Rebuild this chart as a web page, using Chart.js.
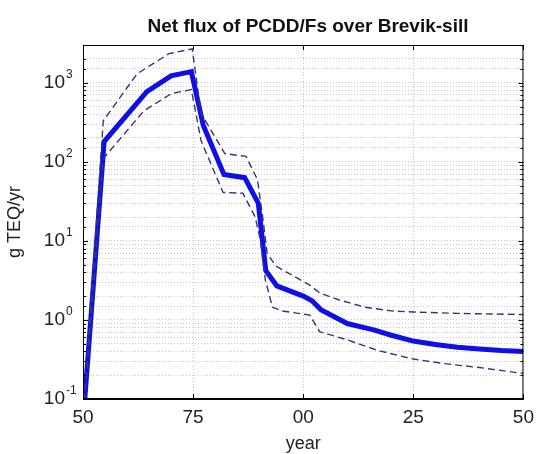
<!DOCTYPE html>
<html>
<head>
<meta charset="utf-8">
<script src="https://cdn.jsdelivr.net/npm/chart.js@4/dist/chart.umd.min.js"></script>
<style>
  html, body { margin: 0; padding: 0; background: #fff; }
  #wrap { width: 541px; height: 454px; }
</style>
</head>
<body>
<div id="wrap"><canvas id="fluxChart" width="541" height="454"></canvas></div>
<script>
const chartTitle = 'Net flux of PCDD/Fs over Brevik-sill';
const xTitle = 'year';
const yTitle = 'g TEQ/yr';

// x ticks (years) and how they are labelled
const xTicks = [1950, 1975, 2000, 2025, 2050];
const xTickLabels = ['50', '75', '00', '25', '50'];
// y decades: base and exponent of each label
const yTickBase = '10';
const yTickExponents = ['-1', '0', '1', '2', '3'];

// best estimate (thick line)
const meanYears = [1950, 1954.8, 1964.5, 1970, 1974.6, 1977.3, 1982, 1986.7, 1989.8, 1990.6, 1991.5, 1994, 2000, 2002, 2004, 2010, 2016, 2020, 2025, 2030, 2035, 2040, 2045, 2050];
const meanFlux  = [0.05, 180, 770, 1220, 1380, 290, 69, 63, 30, 12, 4.2, 2.7, 2.0, 1.75, 1.35, 0.9, 0.75, 0.64, 0.54, 0.49, 0.45, 0.43, 0.41, 0.40];

// upper bound (dashed)
const upperYears = [1950, 1954.6, 1962.3, 1969.5, 1974.8, 1976.8, 1982.2, 1987, 1989.6, 1990.8, 1991.8, 1993.8, 2001.5, 2003.7, 2008, 2014, 2020, 2025, 2035, 2050];
const upperFlux  = [0.05, 330, 1300, 2330, 2680, 410, 127, 117, 60, 20, 7, 4.8, 2.75, 2.2, 1.8, 1.45, 1.3, 1.26, 1.21, 1.17];

// lower bound (dashed)
const lowerYears = [1950, 1954.6, 1963.9, 1970.1, 1974.6, 1976.8, 1981.8, 1986.3, 1989.1, 1990.3, 1991.4, 1993, 1995.2, 2001.5, 2003.7, 2010, 2017, 2025, 2032, 2040, 2050];
const lowerFlux  = [0.05, 110, 445, 730, 820, 185, 41, 40, 20, 10, 3.2, 1.45, 1.3, 1.15, 0.71, 0.56, 0.41, 0.32, 0.28, 0.25, 0.21];

const toPoints = (xs, ys) => xs.map((x, i) => ({ x: x, y: ys[i] }));
const isDecade = v => Math.abs(Math.log10(v) - Math.round(Math.log10(v))) < 1e-9;
const font = 'Liberation Sans, Arial, sans-serif';

// box around the axes, inward ticks, exponents and the title over the plot area
const framePlugin = {
    id: 'frame',
    afterDraw(chart) {
        const { ctx, chartArea: a, scales } = chart;
        ctx.save();
        ctx.strokeStyle = '#000';
        ctx.lineWidth = 1;
        ctx.strokeRect(a.left + 0.5, a.top + 0.5, a.right - a.left - 1, a.bottom - a.top - 1);
        ctx.beginPath();
        scales.y.ticks.forEach(t => {
            const y = Math.round(scales.y.getPixelForValue(t.value)) + 0.5;
            const len = isDecade(t.value) ? 5 : 3;
            ctx.moveTo(a.left, y); ctx.lineTo(a.left + len, y);
            ctx.moveTo(a.right, y); ctx.lineTo(a.right - len, y);
        });
        xTicks.forEach(v => {
            const x = Math.round(scales.x.getPixelForValue(v)) + 0.5;
            ctx.moveTo(x, a.bottom); ctx.lineTo(x, a.bottom - 5);
            ctx.moveTo(x, a.top); ctx.lineTo(x, a.top + 5);
        });
        ctx.stroke();

        // exponents of the y labels
        ctx.fillStyle = '#222';
        ctx.font = '12px ' + font;
        ctx.textAlign = 'left';
        ctx.textBaseline = 'alphabetic';
        yTickExponents.forEach(e => {
            const y = scales.y.getPixelForValue(Math.pow(10, Number(e)));
            ctx.fillText(e, 66, y - 5);
        });

        ctx.fillStyle = '#111';
        ctx.font = 'bold 19px ' + font;
        ctx.textAlign = 'center';
        ctx.fillText(chartTitle, 308, 32);
        ctx.restore();
    }
};

const ctx = document.getElementById('fluxChart').getContext('2d');
new Chart(ctx, {
    type: 'line',
    data: {
        datasets: [{
            label: 'upper',
            data: toPoints(upperYears, upperFlux),
            borderColor: '#35357a',
            borderWidth: 1.4,
            borderDash: [7, 4],
            pointRadius: 0,
            tension: 0
        }, {
            label: 'lower',
            data: toPoints(lowerYears, lowerFlux),
            borderColor: '#35357a',
            borderWidth: 1.4,
            borderDash: [7, 4],
            pointRadius: 0,
            tension: 0
        }, {
            label: 'mean',
            data: toPoints(meanYears, meanFlux),
            borderColor: '#1010e6',
            borderWidth: 5,
            pointRadius: 0,
            tension: 0
        }]
    },
    options: {
        responsive: false,
        animation: false,
        layout: { padding: { top: 45, right: 11, left: 0, bottom: 0 } },
        plugins: {
            legend: { display: false },
            tooltip: { enabled: false }
        },
        scales: {
            x: {
                type: 'linear',
                min: 1950,
                max: 2050,
                afterFit: s => { s.height = 55; },
                afterBuildTicks: s => { s.ticks = xTicks.map(v => ({ value: v })); },
                ticks: {
                    callback: v => xTickLabels[xTicks.indexOf(v)],
                    color: '#222',
                    font: { family: font, size: 19 },
                    padding: 7,
                    maxRotation: 0
                },
                grid: { color: '#c8c8c8', drawTicks: false },
                border: { display: true, color: '#000', dash: [1, 2] },
                title: {
                    display: true,
                    text: xTitle,
                    color: '#222',
                    font: { family: font, size: 18 },
                    padding: { top: 0, bottom: -1 }
                }
            },
            y: {
                type: 'logarithmic',
                min: 0.1,
                max: 3000,
                afterFit: s => { s.width = 83; },
                ticks: {
                    autoSkip: false,
                    callback: v => isDecade(v) ? yTickBase : '',
                    color: '#222',
                    font: { family: font, size: 19 },
                    padding: 18
                },
                grid: { color: '#c8c8c8', drawTicks: false },
                border: { display: true, color: '#000', dash: [1, 2] },
                title: {
                    display: true,
                    text: yTitle,
                    color: '#222',
                    font: { family: font, size: 18 },
                    padding: { top: 4, bottom: 0 }
                }
            }
        }
    },
    plugins: [framePlugin]
});
</script>
</body>
</html>
